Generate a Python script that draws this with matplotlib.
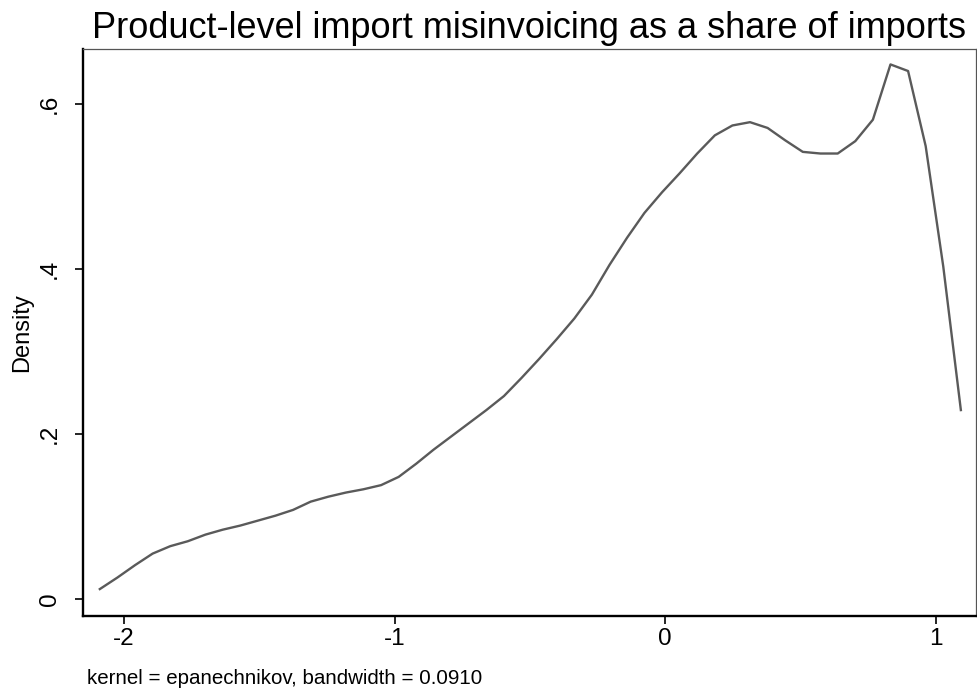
import numpy as np
import matplotlib.pyplot as plt

# kdensity evaluation points (Stata default n=50) and density values
x_vals = [-2.089, -2.024, -1.959, -1.894, -1.829, -1.764, -1.699, -1.635, -1.570, -1.505,
          -1.440, -1.375, -1.310, -1.245, -1.180, -1.115, -1.050, -0.985, -0.920, -0.856,
          -0.791, -0.726, -0.661, -0.596, -0.531, -0.466, -0.401, -0.336, -0.271, -0.206,
          -0.141, -0.077, -0.012, 0.053, 0.118, 0.183, 0.248, 0.313, 0.378, 0.443,
          0.508, 0.573, 0.637, 0.702, 0.767, 0.832, 0.897, 0.962, 1.027, 1.092]
density = [0.012, 0.026, 0.041, 0.055, 0.064, 0.070, 0.078, 0.084, 0.089, 0.095,
           0.101, 0.108, 0.118, 0.124, 0.129, 0.133, 0.138, 0.148, 0.164, 0.181,
           0.197, 0.213, 0.229, 0.246, 0.268, 0.291, 0.315, 0.340, 0.369, 0.405,
           0.438, 0.468, 0.493, 0.516, 0.540, 0.562, 0.574, 0.578, 0.571, 0.556,
           0.542, 0.540, 0.540, 0.555, 0.581, 0.648, 0.640, 0.549, 0.403, 0.229]

x_ticks = [-2, -1, 0, 1]
x_labels = ["-2", "-1", "0", "1"]
y_ticks = [0, 0.2, 0.4, 0.6]
y_labels = ["0", ".2", ".4", ".6"]

title = "Product-level import misinvoicing as a share of imports"
note = "kernel = epanechnikov, bandwidth = 0.0910"

plt.rcParams['font.family'] = ['Liberation Sans', 'DejaVu Sans']

fig = plt.figure(figsize=(9.77, 6.95), dpi=100)
ax = fig.add_axes([0.085, 0.1137, 0.914, 0.8158])

ax.plot(x_vals, density, color="#5a5a5a", lw=1.7)

ax.set_xlim(-2.151, 1.148)
ax.set_ylim(-0.0206, 0.6667)

ax.set_xticks(x_ticks)
ax.set_xticklabels(x_labels, fontsize=17.5)
ax.set_yticks(y_ticks)
ax.set_yticklabels(y_labels, fontsize=17.5, rotation=90, va="center")
ax.tick_params(direction="out", length=6, width=1.2, color="black")
ax.tick_params(axis="x", pad=3)
ax.tick_params(axis="y", pad=10)

for side in ["left", "bottom"]:
    ax.spines[side].set_linewidth(1.7)
    ax.spines[side].set_color("black")
for side in ["top", "right"]:
    ax.spines[side].set_linewidth(0.9)
    ax.spines[side].set_color("#555555")

ax.set_ylabel("Density", fontsize=17, labelpad=4)
ax.set_title(title, fontsize=26, pad=8, x=0.499)
fig.text(0.089, 0.0158, note, fontsize=14.8, va="baseline")

fig.savefig("out.png", dpi=100)
